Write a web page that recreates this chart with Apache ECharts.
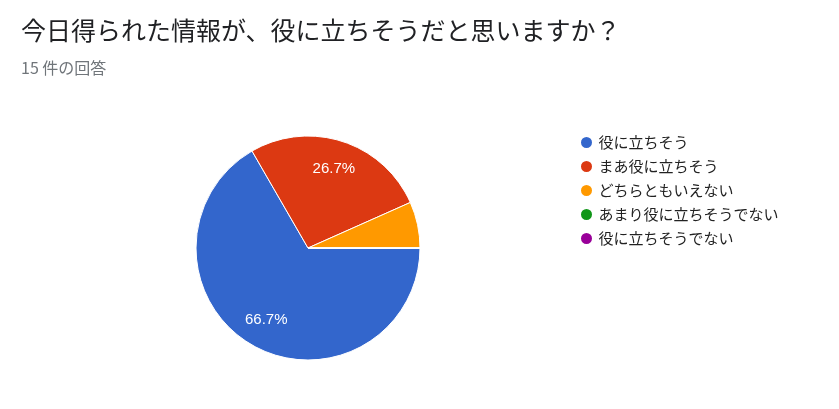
<!DOCTYPE html>
<html>
<head>
<meta charset="utf-8">
<script src="https://cdn.jsdelivr.net/npm/echarts@6/dist/echarts.min.js"></script>
<style>
  html, body { margin: 0; padding: 0; background: #fff; }
  #chart { width: 839px; height: 409px; }
</style>
</head>
<body>
<div id="chart"></div>
<script>
const titleText = "今日得られた情報が、役に立ちそうだと思いますか？";
const subText = "15 件の回答";
const answers = ["役に立ちそう", "まあ役に立ちそう", "どちらともいえない", "あまり役に立ちそうでない", "役に立ちそうでない"];
const counts = [10, 4, 1, 0, 0];
const colors = ["#3366cc", "#dc3912", "#ff9900", "#109618", "#990099"];

const jp = '"Noto Sans CJK JP", "Noto Sans", sans-serif';
const pieData = answers.map((name, i) => ({ name: name, value: counts[i] }));

const chart = echarts.init(document.getElementById("chart"));

chart.setOption({
  animation: false,
  color: colors,
  title: {
    text: titleText,
    subtext: subText,
    left: 16,
    top: 13,
    itemGap: 17,
    textStyle: { fontFamily: jp, fontSize: 25, fontWeight: "normal", color: "#202124" },
    subtextStyle: { fontFamily: jp, fontSize: 16, color: "#70757a" }
  },
  legend: {
    orient: "vertical",
    left: 574,
    top: 130,
    icon: "circle",
    itemWidth: 14,
    itemHeight: 13,
    itemGap: 9,
    data: answers,
    textStyle: { fontFamily: jp, fontSize: 15, color: "#222222" }
  },
  series: [
    {
      type: "pie",
      center: [308, 248],
      radius: [0, 112],
      startAngle: 0,
      clockwise: true,
      data: pieData,
      label: { show: false },
      labelLine: { show: false },
      itemStyle: { borderColor: "#ffffff", borderWidth: 1 },
      emphasis: { disabled: true }
    },
    {
      // label-only layer so the percentages sit out near the rim
      type: "pie",
      center: [308, 248],
      radius: [0, 161],
      startAngle: 0,
      clockwise: true,
      silent: true,
      data: pieData,
      legendHoverLink: false,
      itemStyle: { color: "transparent", borderWidth: 0 },
      label: {
        show: true,
        position: "inside",
        fontFamily: '"Liberation Sans", Arial, sans-serif',
        fontSize: 15,
        color: "#ffffff",
        formatter: p => (p.percent >= 10 ? p.percent.toFixed(1) + "%" : "")
      },
      labelLine: { show: false },
      emphasis: { disabled: true }
    }
  ]
});

window.addEventListener("resize", () => chart.resize());
</script>
</body>
</html>
